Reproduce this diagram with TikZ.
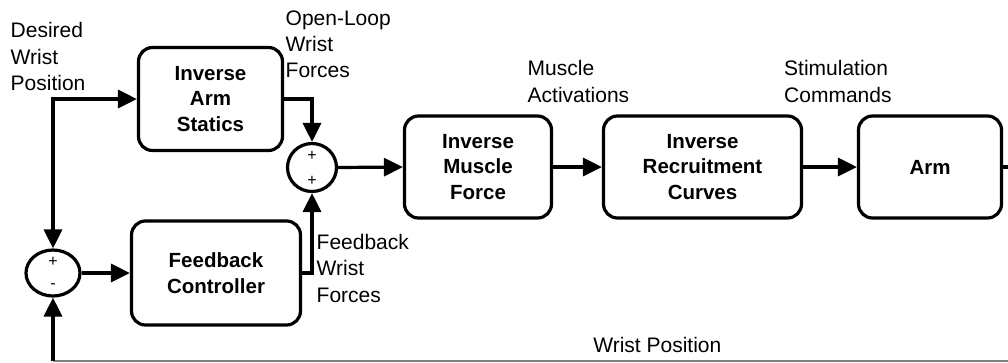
\documentclass[tikz,border=0pt]{standalone}
\usepackage{fontspec}
\setmainfont{Liberation Sans}
\usetikzlibrary{arrows.meta,shapes.geometric}
\begin{document}
\begin{tikzpicture}[x=1pt,y=-1pt,
  blk/.style={draw,line width=3.2pt,rounded corners=14pt,align=center,inner sep=0pt,
    font=\fontsize{20.5}{25.8}\selectfont\bfseries},
  sumj/.style={draw,ellipse,line width=3.2pt,inner sep=0pt},
  arr/.style={line width=3.2pt,-{Triangle[length=19pt,width=18pt]}},
  ln/.style={line width=3.2pt},
  lbl/.style={anchor=north west,align=left,inner sep=0pt,font=\fontsize{21}{26.3}\selectfont},
  sgn/.style={inner sep=0pt,font=\fontsize{16}{16}\selectfont}]
\useasboundingbox (0,0) rectangle (1008,362);
% blocks
\node[blk,minimum width=144pt,minimum height=103pt] (ias) at (210.5,99) {Inverse\\Arm\\Statics};
\node[blk,minimum width=147pt,minimum height=102pt] (imf) at (478,167) {Inverse\\Muscle\\Force};
\node[blk,minimum width=198pt,minimum height=102pt] (irc) at (702.5,167) {Inverse\\Recruitment\\Curves};
\node[blk,minimum width=143pt,minimum height=102pt] (arm) at (930,167) {Arm};
\node[blk,minimum width=169pt,minimum height=104pt] (fc) at (216,273) {Feedback\\Controller};
% summing junctions
\node[sumj,minimum width=49pt,minimum height=48pt] (s1) at (312,167.5) {};
\node[sumj,minimum width=54pt,minimum height=46pt] (s2) at (53,273) {};
\node[sgn] at (312,155.5) {+};
\node[sgn] at (312,181) {+};
\node[sgn] at (53,261.5) {+};
\node[sgn] at (53,286) {-};
% coordinates
\coordinate (c0) at (53,99);
\coordinate (out) at (1008,167);
\coordinate (br) at (1008,361);
\coordinate (bl) at (53,361);
% connectors
\draw[arr] ([xshift=-1.6pt]c0) -- (ias.west);
\draw[arr] ([yshift=-1.6pt]c0) -- (s2.north);
\draw[arr] (ias.east) -| (s1.north);
\draw[arr] (fc.east) -| (s1.south);
\draw[arr] (s1.east) -- (imf.west);
\draw[arr] (s2.east) -- (fc.west);
\draw[arr] (imf.east) -- (irc.west);
\draw[arr] (irc.east) -- (arm.west);
\draw[ln] (arm.east) -- (out);
\draw[gray,line width=1.5pt] (br) -- (bl);
\draw[arr] (bl) -- (s2.south);
% labels
\node[lbl] (l1) at (10.5,22.5) {Desired\\Wrist\\Position};
\node[lbl] (l2) at (285.5,10.5) {Open-Loop\\Wrist\\Forces};
\node[lbl] (l3) at (527.5,60.5) {Muscle\\Activations};
\node[lbl] (l4) at (784,60.5) {Stimulation\\Commands};
\node[lbl] (l5) at (316.5,234) {Feedback\\Wrist\\Forces};
\node[anchor=base east,inner sep=0pt,font=\fontsize{21}{26.3}\selectfont] (l6) at (721.5,352) {Wrist Position};
\end{tikzpicture}
\end{document}
